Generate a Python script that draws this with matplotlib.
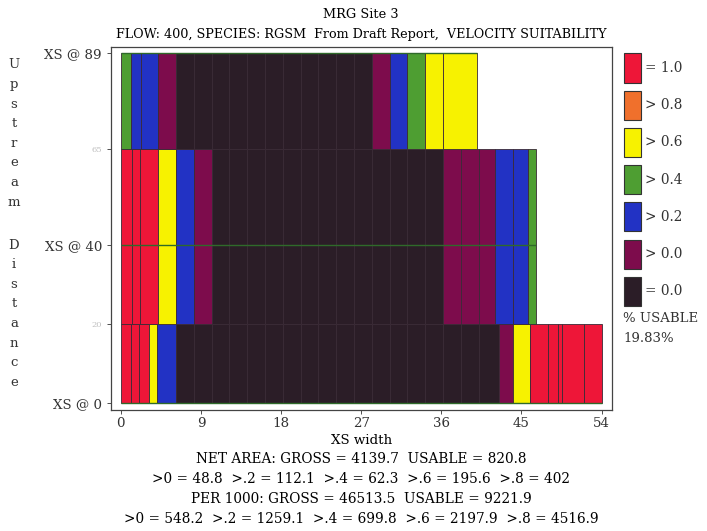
import numpy as np
import matplotlib
matplotlib.use("Agg")
import matplotlib.pyplot as plt
from matplotlib.patches import Rectangle

plt.rcParams['font.family'] = ['DejaVu Serif']

# suitability classes, index = class code
class_labels = ['= 0.0', '> 0.0', '> 0.2', '> 0.4', '> 0.6', '> 0.8', '= 1.0']
class_colors = ['#2b1d27', '#7d0c4c', '#2232c4', '#4e9e32', '#f7f200', '#f0702c', '#ee1638']

# cross sections: station (upstream distance) and band limits
xs_station = [0, 40, 89]
xs_band = [(0, 20), (20, 64.5), (64.5, 89)]

# cell edges along XS width and their class, one list per cross section
xs0_edges = [0, 1.2, 2.0, 3.2, 4.1, 6.2, 8.2, 10.2, 12.2, 14.2, 16.2, 18.2, 20.2, 22.2,
             24.2, 26.2, 28.2, 30.2, 32.2, 34.2, 36.2, 38.2, 40.2, 42.5, 44.0, 46.0,
             48.0, 49.1, 49.5, 52.0, 54.0]
xs0_class = [6, 6, 6, 4, 2, 0, 0, 0, 0, 0, 0, 0, 0, 0, 0, 0, 0, 0, 0, 0, 0, 0, 0,
             1, 4, 6, 6, 6, 6, 6]

xs40_edges = [0, 1.3, 2.2, 4.2, 6.2, 8.2, 10.2, 12.2, 14.2, 16.2, 18.2, 20.2, 22.2,
              24.2, 26.2, 28.2, 30.2, 32.2, 34.2, 36.2, 38.2, 40.2, 42.0, 44.0, 45.7, 46.6]
xs40_class = [6, 6, 6, 4, 2, 1, 0, 0, 0, 0, 0, 0, 0, 0, 0, 0, 0, 0, 0,
              1, 1, 1, 2, 2, 3]

xs89_edges = [0, 1.1, 2.3, 4.2, 6.2, 8.2, 10.2, 12.2, 14.2, 16.2, 18.2, 20.2, 22.2,
              24.2, 26.2, 28.2, 30.2, 32.2, 34.2, 36.2, 40.0]
xs89_class = [3, 2, 2, 1, 0, 0, 0, 0, 0, 0, 0, 0, 0, 0, 0, 1, 2, 3, 4, 4]

x_ticks = [0, 9, 18, 27, 36, 45, 54]
y_ticks = [0, 20, 40, 64.5, 89]
y_ticklabels = ['XS @ 0', '20', 'XS @ 40', '65', 'XS @ 89']

pct_usable = '19.83%'
summary_lines = ['NET AREA: GROSS = 4139.7  USABLE = 820.8',
                 '>0 = 48.8  >.2 = 112.1  >.4 = 62.3  >.6 = 195.6  >.8 = 402',
                 'PER 1000: GROSS = 46513.5  USABLE = 9221.9',
                 '>0 = 548.2  >.2 = 1259.1  >.4 = 699.8  >.6 = 2197.9  >.8 = 4516.9']

fig = plt.figure(figsize=(7.07, 5.31), dpi=100)
ax = fig.add_axes([0.157, 0.228, 0.709, 0.684])

all_edges = [xs0_edges, xs40_edges, xs89_edges]
all_class = [xs0_class, xs40_class, xs89_class]
for edges, cls, (y0, y1), st in zip(all_edges, all_class, xs_band, xs_station):
    edges = np.array(edges)
    colors = [class_colors[c] for c in cls]
    ax.bar(edges[:-1], y1 - y0, width=np.diff(edges), bottom=y0, align='edge',
           color=colors, edgecolor='#3a2a36', linewidth=0.6)
    ax.hlines(st, edges[0], edges[-1], color='#2f6a2a', lw=1.0)

ax.set_xlim(-1.1, 55.2)
ax.set_ylim(-1.8, 90.5)
ax.set_xticks(x_ticks)
ax.set_yticks(y_ticks)
ax.set_yticklabels(y_ticklabels)
ax.tick_params(axis='both', labelsize=9.6, colors='#333333', length=3, width=0.6)
ax.tick_params(axis='x', pad=2)
for lbl in ax.get_yticklabels():
    if not lbl.get_text().startswith('XS'):
        lbl.set_color('#c0c0c0')
        lbl.set_fontsize(6)
for s in ax.spines.values():
    s.set_color('#444444')
    s.set_linewidth(0.9)

fig.text(0.511, 0.973, 'MRG Site 3', ha='center', va='center', fontsize=9.3)
fig.text(0.511, 0.935, 'FLOW: 400, SPECIES: RGSM  From Draft Report,  VELOCITY SUITABILITY',
         ha='center', va='center', fontsize=9.2)

# vertical axis title, one letter per row
word = 'Upstream Distance'
y = 1 - 65 / 531
for ch in word:
    if ch == ' ':
        y -= 43 / 531 - 19.6 / 531
        continue
    fig.text(14 / 707, y, ch, ha='center', va='center', fontsize=9.5, color='#333333')
    y -= 19.6 / 531

fig.text(0.511, 1 - 440 / 531, 'XS width', ha='center', va='center', fontsize=9.6)
for i, line in enumerate(summary_lines):
    fig.text(0.511, 1 - (459 + 20 * i) / 531, line, ha='center', va='center', fontsize=9.8)

# legend boxes, highest class first
for i, c in enumerate(range(len(class_labels) - 1, -1, -1)):
    yc = 68 + 37.2 * i
    fig.patches.append(Rectangle((624 / 707, 1 - (yc + 14.5) / 531), 17 / 707, 29 / 531,
                                 transform=fig.transFigure, facecolor=class_colors[c],
                                 edgecolor='#333333', linewidth=0.8))
    fig.text(645 / 707, 1 - yc / 531, class_labels[c], ha='left', va='center',
             fontsize=9.8, color='#333333')
fig.text(623 / 707, 1 - 318 / 531, '% USABLE', ha='left', va='center', fontsize=9.5, color='#333333')
fig.text(623 / 707, 1 - 339 / 531, pct_usable, ha='left', va='center', fontsize=9.5, color='#333333')

fig.savefig('out.png', dpi=100)
